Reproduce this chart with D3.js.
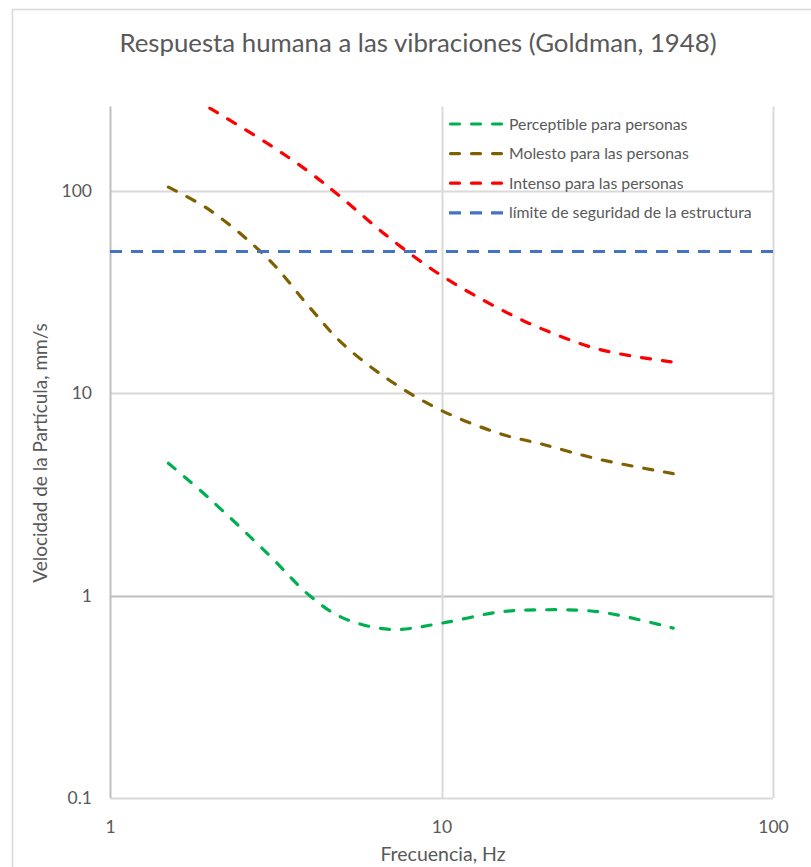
<!DOCTYPE html>
<html><head><meta charset="utf-8">
<script src="https://cdn.jsdelivr.net/npm/d3@7"></script>
<style>
body{margin:0;background:#fff}
svg{display:block}
text{font-family:Lato,"Open Sans",sans-serif;fill:#595959}
</style>
</head><body>
<svg id="chart" width="811" height="867"></svg>
<script>
// ---- data ----
const frequencies = [1.5, 2, 3, 4, 5, 7, 10, 15, 20, 30, 50];
const perceptible = [4.5, 3.0, 1.6, 1.0, 0.78, 0.68, 0.73, 0.83, 0.85, 0.83, 0.69];
const molesto = [104, 80, 46, 26.5, 17.7, 11.5, 8.2, 6.3, 5.6, 4.7, 4.0];
const intensoFreq = [2, 3, 4, 5, 7, 10, 15, 20, 30, 50];
const intenso = [255, 170, 123, 92, 58, 38, 26, 20.8, 16.4, 14.2];
const limiteFreq = [1, 100];
const limite = [50, 50];
const seriesNames = ["Perceptible para personas", "Molesto para las personas", "Intenso para las personas", "límite de seguridad de la estructura"];
const xTicks = [1, 10, 100];
const yTicks = [0.1, 1, 10, 100];
const title = "Respuesta humana a las vibraciones (Goldman, 1948)";
const xTitle = "Frecuencia, Hz";
const yTitle = "Velocidad de la Partícula, mm/s";

// ---- layout / style ----
const colors = ["#00B050", "#7F6000", "#FF0000", "#4472C4"];
const plot = {left: 110, right: 773, top: 106.5, bottom: 798};
const svg = d3.select("#chart");

svg.append("rect").attr("x", 12.5).attr("y", 9.5).attr("width", 820).attr("height", 880)
  .attr("fill", "#fff").attr("stroke", "#d9d9d9").attr("stroke-width", 1.5);

const x = d3.scaleLog().domain([1, 100]).range([plot.left, plot.right]);
const y = d3.scaleLog().domain([0.1, 260]).range([plot.bottom, plot.top]);

// gridlines
const g = svg.append("g");
g.selectAll("line.hg").data(yTicks).join("line")
  .attr("x1", plot.left).attr("x2", plot.right)
  .attr("y1", d => Math.round(y(d)) + 0.5).attr("y2", d => Math.round(y(d)) + 0.5)
  .attr("stroke", d => d === 1 ? "#bfbfbf" : "#d9d9d9").attr("stroke-width", 2);
g.selectAll("line.vg").data(xTicks).join("line")
  .attr("y1", plot.top).attr("y2", plot.bottom)
  .attr("x1", d => Math.round(x(d)) + 0.5).attr("x2", d => Math.round(x(d)) + 0.5)
  .attr("stroke", d => d === 1 ? "#bfbfbf" : "#d9d9d9").attr("stroke-width", 2);

// axes labels
const xAxis = d3.axisBottom(x).tickValues(xTicks).tickFormat(d => String(d)).tickSize(0).tickPadding(23);
svg.append("g").attr("transform", `translate(0,${plot.bottom})`).call(xAxis)
  .call(a => a.select(".domain").remove())
  .selectAll("text").style("font-size", "17.5px").style("font-family", "Lato").attr("fill", "#595959");
const yAxis = d3.axisLeft(y).tickValues(yTicks).tickFormat(d => String(d)).tickSize(0).tickPadding(18);
svg.append("g").attr("transform", `translate(${plot.left},0)`).call(yAxis)
  .call(a => a.select(".domain").remove())
  .selectAll("text").style("font-size", "17.5px").style("font-family", "Lato").attr("fill", "#595959");

// clip
svg.append("clipPath").attr("id", "clip").append("rect")
  .attr("x", plot.left).attr("y", plot.top).attr("width", plot.right - plot.left).attr("height", plot.bottom - plot.top);

const series = [
  {name: seriesNames[0], f: frequencies, v: perceptible, color: colors[0]},
  {name: seriesNames[1], f: frequencies, v: molesto, color: colors[1]},
  {name: seriesNames[2], f: intensoFreq, v: intenso, color: colors[2]},
  {name: seriesNames[3], f: limiteFreq, v: limite, color: colors[3]}
];
const line = d3.line().x(d => x(d[0])).y(d => y(d[1])).curve(d3.curveCatmullRom.alpha(0.5));
const lines = svg.append("g").attr("clip-path", "url(#clip)");
series.forEach((s, i) => {
  const pts = s.f.map((f, k) => [f, s.v[k]]);
  lines.append("path").attr("d", line(pts)).attr("fill", "none")
    .attr("stroke", s.color).attr("stroke-width", 3.2)
    .attr("stroke-linecap", i === 3 ? "butt" : "round")
    .attr("stroke-dasharray", i === 3 ? "12,9" : "9,12");
});

// legend
const leg = svg.append("g");
series.forEach((s, i) => {
  const cy = 124 + i * 29.6;
  leg.append("line").attr("x1", i === 3 ? 449 : 450.5).attr("x2", i === 3 ? 503 : 501.5).attr("y1", cy).attr("y2", cy)
    .attr("stroke", s.color).attr("stroke-width", 3.2)
    .attr("stroke-linecap", i === 3 ? "butt" : "round")
    .attr("stroke-dasharray", i === 3 ? "12,9" : "9,12");
  leg.append("text").attr("x", 509).attr("y", cy).attr("dy", "0.35em")
    .style("font-size", "15.8px").text(s.name);
});

// titles
svg.append("text").attr("x", 418).attr("y", 52).attr("text-anchor", "middle")
  .style("font-size", "25.8px").text(title);
svg.append("text").attr("x", 443).attr("y", 861).attr("text-anchor", "middle")
  .style("font-size", "19.5px").text(xTitle);
svg.append("text").attr("transform", "translate(47,453) rotate(-90)").attr("text-anchor", "middle")
  .style("font-size", "19px").text(yTitle);
</script>
</body></html>
